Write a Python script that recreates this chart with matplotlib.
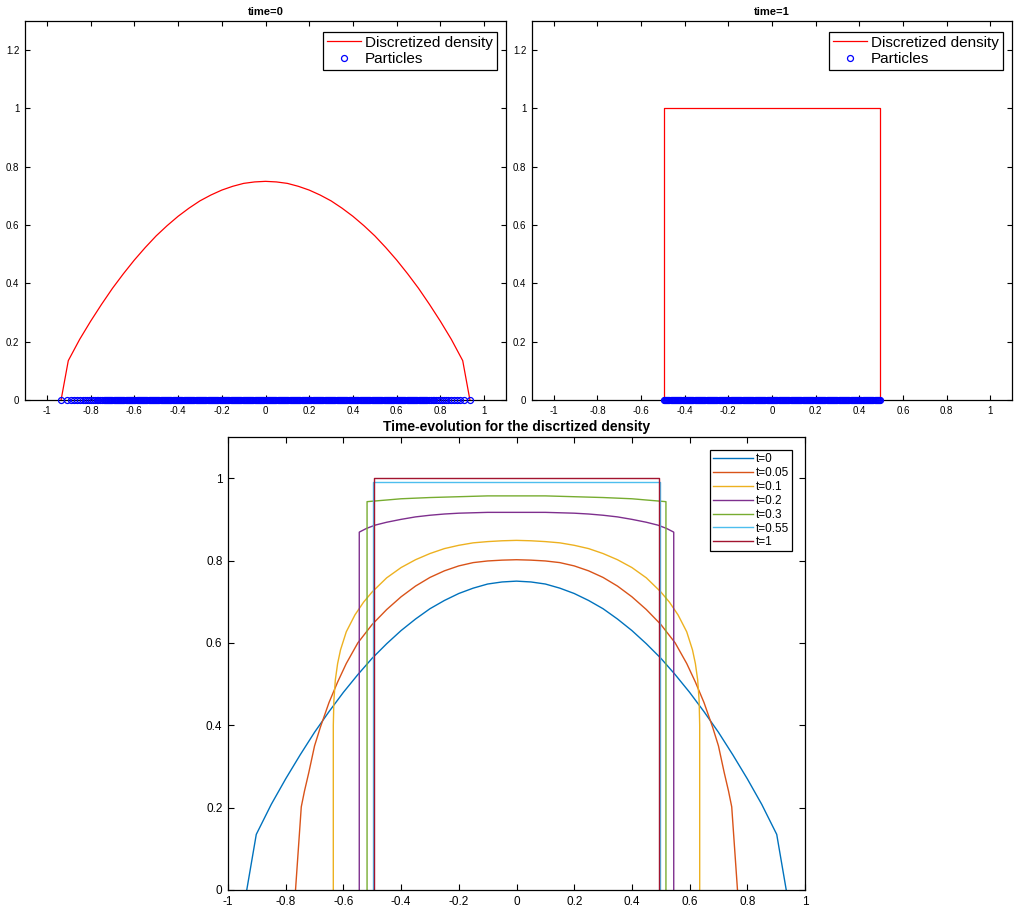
#!/usr/bin/env python3
"""
Particle approximation of a nonlinear diffusion: discretized density at
time=0 and time=1 (top), and its time-evolution (bottom).

Produces: out.png
"""

import matplotlib
matplotlib.use('Agg')
import matplotlib.pyplot as plt

plt.rcParams['font.family'] = ['Liberation Sans', 'DejaVu Sans']
plt.rcParams['axes.unicode_minus'] = False

# Figure settings
FIG_W_PX = 1018
FIG_H_PX = 911
DPI = 100

# MATLAB default line colours
COLORS = ['#0072BD', '#D95319', '#EDB120', '#7E2F8E', '#77AC30', '#4DBEEE', '#A2142F']

# ---------------------------------------------------------------- data
TIME_LABELS = ['t=0', 't=0.05', 't=0.1', 't=0.2', 't=0.3', 't=0.55', 't=1']

# t=0 (also the "time=0" discretized density)
T0_X = [-0.935, -0.902, -0.85, -0.80, -0.75, -0.70, -0.65, -0.60, -0.55, -0.50, -0.45,
        -0.40, -0.35, -0.30, -0.25, -0.20, -0.15, -0.10, -0.05, 0.0,
        0.05, 0.10, 0.15, 0.20, 0.25, 0.30, 0.35, 0.40, 0.45, 0.50,
        0.55, 0.60, 0.65, 0.70, 0.75, 0.80, 0.85, 0.902, 0.935]
T0_Y = [0.0, 0.135, 0.208, 0.270, 0.328, 0.383, 0.433, 0.480, 0.523, 0.563, 0.598,
        0.630, 0.658, 0.683, 0.703, 0.720, 0.733, 0.743, 0.748, 0.750,
        0.748, 0.743, 0.733, 0.720, 0.703, 0.683, 0.658, 0.630, 0.598, 0.563,
        0.523, 0.480, 0.433, 0.383, 0.328, 0.270, 0.208, 0.135, 0.0]

# t=0.05
T005_X = [-0.766, -0.746, -0.735, -0.72, -0.70, -0.68, -0.65, -0.62, -0.59, -0.55,
          -0.50, -0.45, -0.40, -0.35, -0.30, -0.25, -0.20, -0.15, -0.10, -0.05, 0.0,
          0.05, 0.10, 0.15, 0.20, 0.25, 0.30, 0.35, 0.40, 0.45, 0.50,
          0.55, 0.59, 0.62, 0.65, 0.68, 0.70, 0.72, 0.735, 0.746, 0.766]
T005_Y = [0.0, 0.202, 0.240, 0.285, 0.350, 0.395, 0.455, 0.505, 0.550, 0.600,
          0.645, 0.681, 0.712, 0.738, 0.759, 0.775, 0.787, 0.795, 0.799, 0.801, 0.802,
          0.801, 0.799, 0.795, 0.787, 0.775, 0.759, 0.738, 0.712, 0.681, 0.645,
          0.600, 0.550, 0.505, 0.455, 0.395, 0.350, 0.285, 0.240, 0.202, 0.0]

# t=0.1
T01_X = [-0.635, -0.635, -0.633, -0.628, -0.62, -0.61, -0.59, -0.56, -0.53, -0.50,
         -0.45, -0.40, -0.35, -0.30, -0.25, -0.20, -0.15, -0.10, -0.05, 0.0,
         0.05, 0.10, 0.15, 0.20, 0.25, 0.30, 0.35, 0.40, 0.45, 0.50,
         0.53, 0.56, 0.59, 0.61, 0.62, 0.628, 0.633, 0.635, 0.635]
T01_Y = [0.0, 0.40, 0.46, 0.51, 0.55, 0.583, 0.627, 0.668, 0.699, 0.724,
         0.758, 0.783, 0.802, 0.817, 0.829, 0.837, 0.843, 0.846, 0.848, 0.849,
         0.848, 0.846, 0.843, 0.837, 0.829, 0.817, 0.802, 0.783, 0.758, 0.724,
         0.699, 0.668, 0.627, 0.583, 0.55, 0.51, 0.46, 0.40, 0.0]

# t=0.2
T02_X = [-0.545, -0.545, -0.52, -0.49, -0.45, -0.40, -0.35, -0.30, -0.25, -0.20,
         -0.15, -0.10, 0.0, 0.10, 0.15, 0.20, 0.25, 0.30, 0.35, 0.40,
         0.45, 0.49, 0.52, 0.545, 0.545]
T02_Y = [0.0, 0.869, 0.878, 0.886, 0.893, 0.900, 0.906, 0.910, 0.913, 0.915,
         0.916, 0.917, 0.917, 0.917, 0.916, 0.915, 0.913, 0.910, 0.906, 0.900,
         0.893, 0.886, 0.878, 0.869, 0.0]

# t=0.3
T03_X = [-0.518, -0.518, -0.45, -0.40, -0.30, -0.20, -0.10, 0.0,
         0.10, 0.20, 0.30, 0.40, 0.45, 0.518, 0.518]
T03_Y = [0.0, 0.943, 0.947, 0.950, 0.953, 0.955, 0.957, 0.957,
         0.957, 0.955, 0.953, 0.950, 0.947, 0.943, 0.0]

# t=0.55
T055_X = [-0.497, -0.497, 0.497, 0.497]
T055_Y = [0.0, 0.991, 0.991, 0.0]

# t=1 (also the "time=1" discretized density)
T1_X = [-0.495, -0.495, 0.495, 0.495]
T1_Y = [0.0, 1.0, 1.0, 0.0]

# particle positions at time=0 (sparse near the edges, a solid band in the middle)
PARTICLES_T0 = [
    -0.937, -0.909, -0.891, -0.874, -0.861, -0.848, -0.836, -0.826, -0.816, -0.806,
    -0.797, -0.788, -0.780, -0.772, -0.764, -0.756, -0.748,
    -0.740, -0.735, -0.730, -0.725, -0.720, -0.715, -0.710, -0.705, -0.700, -0.695,
    -0.690, -0.685, -0.680, -0.675, -0.670, -0.665, -0.660, -0.655, -0.650, -0.645,
    -0.640, -0.635, -0.630, -0.625, -0.620, -0.615, -0.610, -0.605, -0.600, -0.595,
    -0.590, -0.585, -0.580, -0.575, -0.570, -0.565, -0.560, -0.555, -0.550, -0.545,
    -0.540, -0.535, -0.530, -0.525, -0.520, -0.515, -0.510, -0.505, -0.500, -0.495,
    -0.490, -0.485, -0.480, -0.475, -0.470, -0.465, -0.460, -0.455, -0.450, -0.445,
    -0.440, -0.435, -0.430, -0.425, -0.420, -0.415, -0.410, -0.405, -0.400, -0.395,
    -0.390, -0.385, -0.380, -0.375, -0.370, -0.365, -0.360, -0.355, -0.350, -0.345,
    -0.340, -0.335, -0.330, -0.325, -0.320, -0.315, -0.310, -0.305, -0.300, -0.295,
    -0.290, -0.285, -0.280, -0.275, -0.270, -0.265, -0.260, -0.255, -0.250, -0.245,
    -0.240, -0.235, -0.230, -0.225, -0.220, -0.215, -0.210, -0.205, -0.200, -0.195,
    -0.190, -0.185, -0.180, -0.175, -0.170, -0.165, -0.160, -0.155, -0.150, -0.145,
    -0.140, -0.135, -0.130, -0.125, -0.120, -0.115, -0.110, -0.105, -0.100, -0.095,
    -0.090, -0.085, -0.080, -0.075, -0.070, -0.065, -0.060, -0.055, -0.050, -0.045,
    -0.040, -0.035, -0.030, -0.025, -0.020, -0.015, -0.010, -0.005, 0.000, 0.005,
    0.010, 0.015, 0.020, 0.025, 0.030, 0.035, 0.040, 0.045, 0.050, 0.055,
    0.060, 0.065, 0.070, 0.075, 0.080, 0.085, 0.090, 0.095, 0.100, 0.105,
    0.110, 0.115, 0.120, 0.125, 0.130, 0.135, 0.140, 0.145, 0.150, 0.155,
    0.160, 0.165, 0.170, 0.175, 0.180, 0.185, 0.190, 0.195, 0.200, 0.205,
    0.210, 0.215, 0.220, 0.225, 0.230, 0.235, 0.240, 0.245, 0.250, 0.255,
    0.260, 0.265, 0.270, 0.275, 0.280, 0.285, 0.290, 0.295, 0.300, 0.305,
    0.310, 0.315, 0.320, 0.325, 0.330, 0.335, 0.340, 0.345, 0.350, 0.355,
    0.360, 0.365, 0.370, 0.375, 0.380, 0.385, 0.390, 0.395, 0.400, 0.405,
    0.410, 0.415, 0.420, 0.425, 0.430, 0.435, 0.440, 0.445, 0.450, 0.455,
    0.460, 0.465, 0.470, 0.475, 0.480, 0.485, 0.490, 0.495, 0.500, 0.505,
    0.510, 0.515, 0.520, 0.525, 0.530, 0.535, 0.540, 0.545, 0.550, 0.555,
    0.560, 0.565, 0.570, 0.575, 0.580, 0.585, 0.590, 0.595, 0.600, 0.605,
    0.610, 0.615, 0.620, 0.625, 0.630, 0.635, 0.640, 0.645, 0.650, 0.655,
    0.660, 0.665, 0.670, 0.675, 0.680, 0.685, 0.690, 0.695, 0.700, 0.705,
    0.710, 0.715, 0.720, 0.725, 0.730, 0.735, 0.740,
    0.748, 0.756, 0.764, 0.772, 0.780, 0.788, 0.797, 0.806, 0.816, 0.826,
    0.836, 0.848, 0.861, 0.874, 0.891, 0.909, 0.937,
]

# particle positions at time=1 (uniform on [-0.5, 0.5])
PARTICLES_T1 = [
    -0.495, -0.490, -0.485, -0.480, -0.475, -0.470, -0.465, -0.460, -0.455, -0.450,
    -0.445, -0.440, -0.435, -0.430, -0.425, -0.420, -0.415, -0.410, -0.405, -0.400,
    -0.395, -0.390, -0.385, -0.380, -0.375, -0.370, -0.365, -0.360, -0.355, -0.350,
    -0.345, -0.340, -0.335, -0.330, -0.325, -0.320, -0.315, -0.310, -0.305, -0.300,
    -0.295, -0.290, -0.285, -0.280, -0.275, -0.270, -0.265, -0.260, -0.255, -0.250,
    -0.245, -0.240, -0.235, -0.230, -0.225, -0.220, -0.215, -0.210, -0.205, -0.200,
    -0.195, -0.190, -0.185, -0.180, -0.175, -0.170, -0.165, -0.160, -0.155, -0.150,
    -0.145, -0.140, -0.135, -0.130, -0.125, -0.120, -0.115, -0.110, -0.105, -0.100,
    -0.095, -0.090, -0.085, -0.080, -0.075, -0.070, -0.065, -0.060, -0.055, -0.050,
    -0.045, -0.040, -0.035, -0.030, -0.025, -0.020, -0.015, -0.010, -0.005, 0.000,
    0.005, 0.010, 0.015, 0.020, 0.025, 0.030, 0.035, 0.040, 0.045, 0.050,
    0.055, 0.060, 0.065, 0.070, 0.075, 0.080, 0.085, 0.090, 0.095, 0.100,
    0.105, 0.110, 0.115, 0.120, 0.125, 0.130, 0.135, 0.140, 0.145, 0.150,
    0.155, 0.160, 0.165, 0.170, 0.175, 0.180, 0.185, 0.190, 0.195, 0.200,
    0.205, 0.210, 0.215, 0.220, 0.225, 0.230, 0.235, 0.240, 0.245, 0.250,
    0.255, 0.260, 0.265, 0.270, 0.275, 0.280, 0.285, 0.290, 0.295, 0.300,
    0.305, 0.310, 0.315, 0.320, 0.325, 0.330, 0.335, 0.340, 0.345, 0.350,
    0.355, 0.360, 0.365, 0.370, 0.375, 0.380, 0.385, 0.390, 0.395, 0.400,
    0.405, 0.410, 0.415, 0.420, 0.425, 0.430, 0.435, 0.440, 0.445, 0.450,
    0.455, 0.460, 0.465, 0.470, 0.475, 0.480, 0.485, 0.490, 0.495,
]

X_TICKS = [-1, -0.8, -0.6, -0.4, -0.2, 0, 0.2, 0.4, 0.6, 0.8, 1]
Y_TICKS_TOP = [0, 0.2, 0.4, 0.6, 0.8, 1, 1.2]
Y_TICKS_BOTTOM = [0, 0.2, 0.4, 0.6, 0.8, 1]


def fmt(v):
    return f'{round(v, 2):g}'


def style_axes(ax, xlim, ylim, yticks, fontsize, ticklen):
    ax.set_xlim(*xlim)
    ax.set_ylim(*ylim)
    ax.set_xticks(X_TICKS)
    ax.set_xticklabels([fmt(v) for v in X_TICKS])
    ax.set_yticks(yticks)
    ax.set_yticklabels([fmt(v) for v in yticks])
    ax.tick_params(direction='in', top=True, right=True, length=ticklen,
                   width=0.8, labelsize=fontsize, pad=4)
    for spine in ax.spines.values():
        spine.set_color('black')
        spine.set_linewidth(0.9)


def particle_panel(ax, dens_x, dens_y, particles, title):
    ax.plot(dens_x, dens_y, color='#FF0000', linewidth=0.9, label='Discretized density')
    ax.plot(particles, [0.0] * len(particles), linestyle='none', marker='o',
            markersize=4.3, markerfacecolor='none', markeredgecolor='#0000FF',
            markeredgewidth=0.9, clip_on=False, label='Particles', zorder=4)
    style_axes(ax, (-1.1, 1.1), (0, 1.3), Y_TICKS_TOP, 7, 3.4)
    ax.set_title(title, fontsize=8, fontweight='bold', pad=4)
    leg = ax.legend(loc='upper right', bbox_to_anchor=(0.981, 0.971), borderaxespad=0,
                    fontsize=11, fancybox=False, framealpha=1, edgecolor='black',
                    handlelength=2.2, handletextpad=0.3, borderpad=0.25,
                    labelspacing=0.15, numpoints=1)
    leg.get_frame().set_linewidth(0.9)


def main():
    fig = plt.figure(figsize=(FIG_W_PX / DPI, FIG_H_PX / DPI), dpi=DPI)

    ax_t0 = fig.add_axes([25 / FIG_W_PX, 1 - 400 / FIG_H_PX, 481 / FIG_W_PX, 379 / FIG_H_PX])
    ax_t1 = fig.add_axes([532 / FIG_W_PX, 1 - 400 / FIG_H_PX, 480 / FIG_W_PX, 379 / FIG_H_PX])
    ax_ev = fig.add_axes([228 / FIG_W_PX, 1 - 890 / FIG_H_PX, 577 / FIG_W_PX, 453 / FIG_H_PX])

    particle_panel(ax_t0, T0_X, T0_Y, PARTICLES_T0, 'time=0')
    particle_panel(ax_t1, T1_X, T1_Y, PARTICLES_T1, 'time=1')

    # time-evolution panel
    curves = [(T0_X, T0_Y), (T005_X, T005_Y), (T01_X, T01_Y), (T02_X, T02_Y),
              (T03_X, T03_Y), (T055_X, T055_Y), (T1_X, T1_Y)]
    for (xs, ys), color, label in zip(curves, COLORS, TIME_LABELS):
        ax_ev.plot(xs, ys, color=color, linewidth=1.0, label=label)

    style_axes(ax_ev, (-1, 1), (0, 1.1), Y_TICKS_BOTTOM, 8.5, 4.5)
    ax_ev.set_title('Time-evolution for the discrtized density', fontsize=10,
                    fontweight='bold', pad=4)
    leg = ax_ev.legend(loc='upper right', bbox_to_anchor=(0.9775, 0.971), borderaxespad=0,
                       fontsize=8.5, fancybox=False, framealpha=1, edgecolor='black',
                       handlelength=3.4, handletextpad=0.2, borderpad=0.25,
                       labelspacing=0.16)
    leg.get_frame().set_linewidth(0.9)

    fig.savefig('out.png', dpi=DPI, facecolor='white')


if __name__ == '__main__':
    main()
